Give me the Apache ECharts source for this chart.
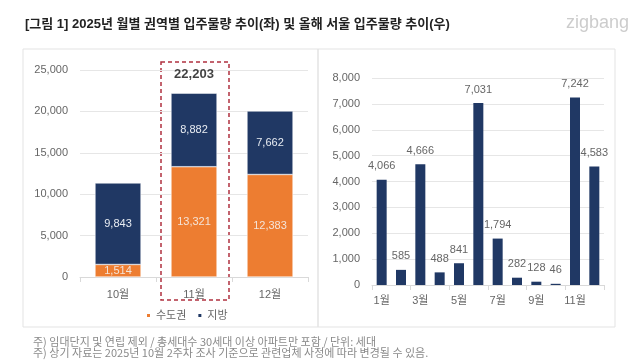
<!DOCTYPE html>
<html><head><meta charset="utf-8">
<script src="https://cdn.jsdelivr.net/npm/echarts@6/dist/echarts.min.js"></script>
<style>html,body{margin:0;padding:0;background:#fff}#c{width:640px;height:360px}</style>
</head><body><div id="c"></div>
<script>
const leftCats = ['10월','11월','12월'];
const capitalVals = [1514, 13321, 12383];
const regionVals = [9843, 8882, 7662];
const highlightIndex = 1;
const rightCats = ['1월','2월','3월','4월','5월','6월','7월','8월','9월','10월','11월','12월'];
const seoulVals = [4066, 585, 4666, 488, 841, 7031, 1794, 282, 128, 46, 7242, 4583];

const FONT = "'Liberation Sans', 'Noto Sans CJK KR', sans-serif";
const NAVY = '#203864', ORANGE = '#ed7d31', GREY = '#666';
const totals = capitalVals.map((v, i) => v + regionVals[i]);
const fmt = v => v.toLocaleString('en-US');

const chart = echarts.init(document.getElementById('c'), null, {renderer: 'canvas'});
const option = {
  animation: false,
  textStyle: {fontFamily: FONT},
  grid: [
    {left: 80, right: 332, top: 70, bottom: 83},
    {left: 372, right: 36, top: 78, bottom: 75}
  ],
  legend: {
    data: ['수도권', '지방'], left: 140, top: 305, icon: 'rect', itemWidth: 5, itemHeight: 5, itemGap: 10,
    textStyle: {color: GREY, fontSize: 11, fontFamily: FONT}
  },
  xAxis: [
    {type: 'category', gridIndex: 0, data: leftCats,
     axisLine: {lineStyle: {color: '#d9d9d9'}}, axisTick: {show: true, lineStyle: {color: '#d9d9d9'}},
     axisLabel: {color: GREY, fontSize: 11, margin: 12}},
    {type: 'category', gridIndex: 1, data: rightCats,
     axisLine: {lineStyle: {color: '#d9d9d9'}}, axisTick: {show: true, lineStyle: {color: '#d9d9d9'}},
     axisLabel: {color: GREY, fontSize: 11, interval: 1, margin: 10}}
  ],
  yAxis: [
    {type: 'value', gridIndex: 0, min: 0, max: 25000, interval: 5000,
     axisLabel: {color: GREY, fontSize: 11, formatter: v => fmt(v), margin: 12},
     splitLine: {lineStyle: {color: '#e6e6e6'}}, axisLine: {show: false}, axisTick: {show: false}},
    {type: 'value', gridIndex: 1, min: 0, max: 8000, interval: 1000,
     axisLabel: {color: GREY, fontSize: 11, formatter: v => fmt(v), margin: 12},
     splitLine: {lineStyle: {color: '#e6e6e6'}}, axisLine: {show: false}, axisTick: {show: false}}
  ],
  series: [
    {name: '수도권', type: 'bar', stack: 'a', xAxisIndex: 0, yAxisIndex: 0, data: capitalVals, barWidth: 46,
     itemStyle: {color: ORANGE, borderColor: '#fff', borderWidth: 0.5},
     label: {show: true, position: 'inside', color: '#f4e4d8', fontSize: 11, formatter: p => fmt(p.value)}},
    {name: '지방', type: 'bar', stack: 'a', xAxisIndex: 0, yAxisIndex: 0, data: regionVals, barWidth: 46,
     itemStyle: {color: NAVY, borderColor: '#fff', borderWidth: 0.5},
     label: {show: true, position: 'inside', color: '#e8ecf2', fontSize: 11, formatter: p => fmt(p.value)}},
    {name: 'total', type: 'scatter', xAxisIndex: 0, yAxisIndex: 0, symbolSize: 0,
     data: totals.map((v, i) => i === highlightIndex ? v : null),
     label: {show: true, position: 'top', distance: 12, color: '#111', fontSize: 13, fontWeight: 'bold', formatter: p => fmt(p.value)}},
    {name: '서울', type: 'bar', xAxisIndex: 1, yAxisIndex: 1, data: seoulVals, barWidth: 10,
     itemStyle: {color: NAVY},
     label: {show: true, position: 'top', distance: 8, color: GREY, fontSize: 11, formatter: p => fmt(p.value)}}
  ],
  graphic: [
    {type: 'rect', shape: {x: 23, y: 49, width: 295, height: 278}, style: {fill: 'none', stroke: '#e3e3e3', lineWidth: 1}, silent: true, z: -1},
    {type: 'rect', shape: {x: 318, y: 49, width: 297, height: 278}, style: {fill: 'none', stroke: '#e3e3e3', lineWidth: 1}, silent: true, z: -1},
    {type: 'text', left: 25, top: 18, style: {text: '[그림 1] 2025년 월별 권역별 입주물량 추이(좌) 및 올해 서울 입주물량 추이(우)', fill: '#222', font: "bold 13px 'Liberation Sans', 'Noto Sans CJK KR', sans-serif"}},
    {type: 'text', left: 566, top: 14, style: {text: 'zigbang', fill: 'rgba(170,170,170,0.6)', font: "18px 'Liberation Sans', 'Noto Sans', sans-serif"}},
    {type: 'text', left: 33, top: 336, style: {text: '주) 임대단지 및 연립 제외 / 총세대수 30세대 이상 아파트만 포함 / 단위: 세대', fill: '#8a8a8a', font: "11px 'Noto Sans CJK KR', sans-serif"}},
    {type: 'text', left: 33, top: 347, style: {text: '주) 상기 자료는 2025년 10월 2주차 조사 기준으로 관련업체 사정에 따라 변경될 수 있음.', fill: '#8a8a8a', font: "11px 'Noto Sans CJK KR', sans-serif"}}
  ]
};
chart.setOption(option);
const cx = chart.convertToPixel({xAxisIndex: 0}, leftCats[highlightIndex]);
chart.setOption({graphic: option.graphic.concat([
  {type: 'rect', shape: {x: cx - 33, y: 62, width: 68, height: 238}, style: {fill: 'none', stroke: '#b0303f', lineWidth: 1.5, lineDash: [4, 3]}, silent: true}
])});
</script></body></html>
